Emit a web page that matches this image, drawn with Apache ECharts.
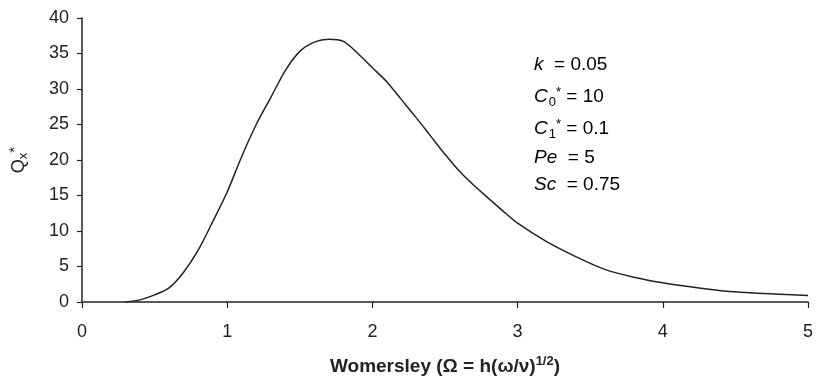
<!DOCTYPE html>
<html>
<head>
<meta charset="utf-8">
<script src="https://cdn.jsdelivr.net/npm/echarts@6/dist/echarts.min.js"></script>
<style>
  html, body { margin: 0; padding: 0; background: #fff; }
  #chart { width: 817px; height: 386px; }
</style>
</head>
<body>
<div id="chart"></div>
<script>
// Womersley number (x) and Qx* (y)
const womersley = [0.3, 0.4, 0.5, 0.6, 0.7, 0.8, 0.9, 1.0, 1.1, 1.2, 1.3, 1.4, 1.5, 1.6, 1.7, 1.8, 1.9, 2.0,
    2.1, 2.2, 2.3, 2.4, 2.5, 2.6, 2.7, 2.8, 2.9, 3.0, 3.2, 3.4, 3.6, 3.8, 4.0, 4.2, 4.4, 4.6, 4.8, 5.0]
const qx = [0, 0.3, 1.0, 2.0, 4.2, 7.3, 11.3, 15.5, 20.5, 25.0, 28.8, 32.6, 35.3, 36.6, 37.0, 36.7, 35.0, 33.0,
    31.0, 28.5, 26.0, 23.4, 20.8, 18.4, 16.4, 14.6, 12.8, 11.1, 8.5, 6.4, 4.6, 3.5, 2.7, 2.1, 1.6, 1.3, 1.1, 0.9]

// parameter box lines
const params = [
    '{i|k}{n|  = 0.05}',
    '{i|C}{sub|0}{sup|*}{n| = 10}',
    '{i|C}{sub|1}{sup|*}{n| = 0.1}',
    '{i|Pe}{n|  = 5}',
    '{i|Sc}{n|  = 0.75}'
]
const paramMids = [67, 98, 130, 160, 187]

const font = 'Liberation Sans, Arial, sans-serif'
const ink = '#222'

const richText = {
    i: { fontStyle: 'italic', fontSize: 19, fontFamily: font, color: ink },
    n: { fontSize: 19, fontFamily: font, color: ink },
    sub: { fontSize: 13, fontFamily: font, color: ink, padding: [11, 0, 0, 1] },
    sup: { fontSize: 13, fontFamily: font, color: ink, padding: [0, 0, 8, 0] }
}

const chart = echarts.init(document.getElementById('chart'))

chart.setOption({
    animation: false,
    grid: { left: 82, right: 9, top: 18, bottom: 84, outerBoundsMode: 'none', containLabel: false },
    xAxis: {
        type: 'value',
        min: 0,
        max: 5,
        interval: 1,
        name: '{b|Womersley (Ω = h(ω/ν)}{s|1/2}{b|)}',
        nameLocation: 'middle',
        nameGap: 53,
        nameTextStyle: {
            rich: {
                b: { fontSize: 19, fontWeight: 'bold', fontFamily: font, color: ink },
                s: { fontSize: 13, fontWeight: 'bold', fontFamily: font, color: ink, padding: [0, 0, 10, 0] }
            }
        },
        axisLine: { onZero: false, lineStyle: { color: ink, width: 1.5 } },
        axisTick: { show: true, inside: false, length: 6, lineStyle: { color: ink, width: 1.2 } },
        axisLabel: { color: ink, fontSize: 18, fontFamily: font, margin: 21 },
        splitLine: { show: false }
    },
    yAxis: {
        type: 'value',
        min: 0,
        max: 40,
        interval: 5,
        name: '{q|Q}{sub|x}{sup|*}',
        nameLocation: 'middle',
        nameRotate: 90,
        nameGap: 50,
        nameTextStyle: {
            rich: {
                q: { fontSize: 18, fontFamily: font, color: ink },
                sub: { fontSize: 13, fontFamily: font, color: ink, padding: [8, 0, 0, 0] },
                sup: { fontSize: 15, fontFamily: font, color: ink, padding: [0, 0, 10, 0] }
            }
        },
        axisLine: { show: true, lineStyle: { color: ink, width: 1.5 } },
        axisTick: { show: true, inside: false, length: 5, lineStyle: { color: ink, width: 1.2 } },
        axisLabel: { color: ink, fontSize: 18, fontFamily: font, margin: 13 },
        splitLine: { show: false }
    },
    graphic: params.map((line, idx) => ({
        type: 'text',
        left: 534,
        top: paramMids[idx] - 12,
        style: { text: line, rich: richText }
    })),
    series: [{
        type: 'line',
        data: womersley.map((x, idx) => [x, qx[idx]]),
        smooth: 0.3,
        showSymbol: false,
        lineStyle: { color: ink, width: 1.5 }
    }]
})
</script>
</body>
</html>
